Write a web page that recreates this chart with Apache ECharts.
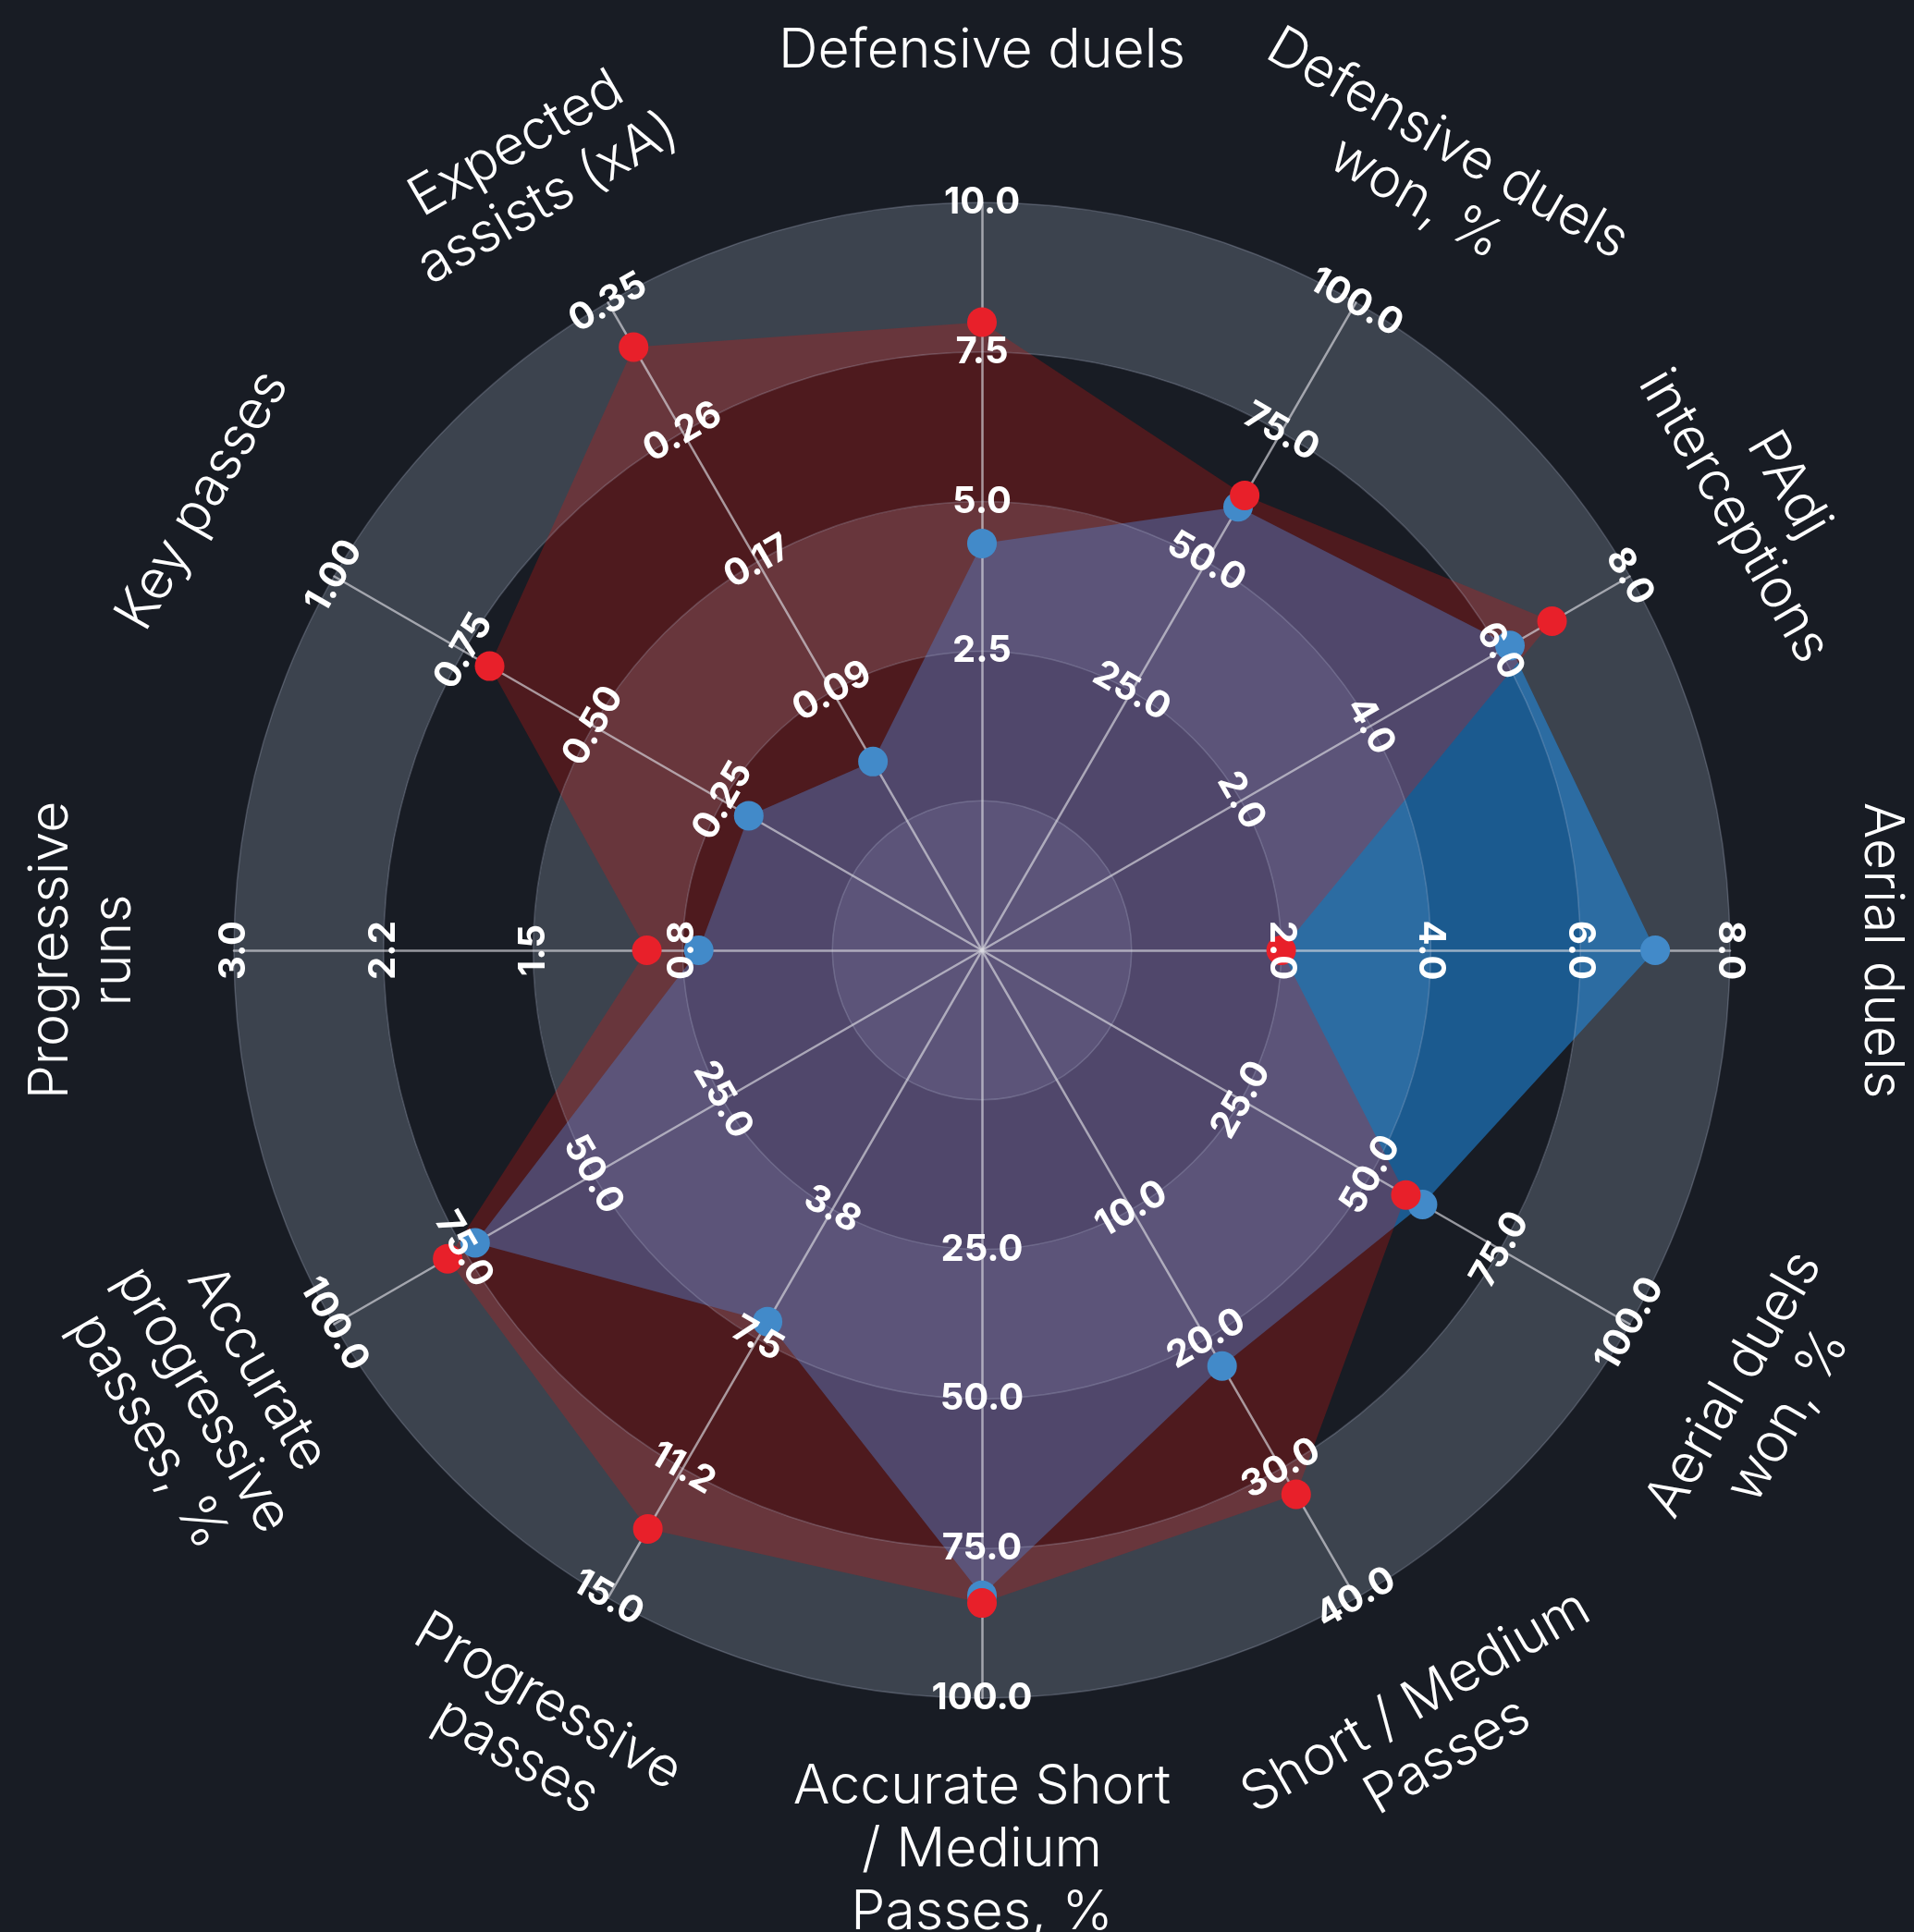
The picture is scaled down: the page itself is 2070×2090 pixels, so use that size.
<!DOCTYPE html>
<html>
<head>
<meta charset="utf-8">
<script src="https://cdn.jsdelivr.net/npm/echarts@6/dist/echarts.min.js"></script>
<style>
  html, body { margin: 0; padding: 0; background: #181c24; }
  #chart { width: 2070px; height: 2090px; }
</style>
</head>
<body>
<div id="chart"></div>
<script>
// indicators, counter-clockwise from the top (ECharts radar order)
const categories = [
  'Defensive duels',
  'Expected\nassists (xA)',
  'Key passes',
  'Progressive\nruns',
  'Accurate\nprogressive\npasses, %',
  'Progressive\npasses',
  'Accurate Short\n/ Medium\nPasses, %',
  'Short / Medium\nPasses',
  'Aerial duels\nwon, %',
  'Aerial duels',
  'PAdj\ninterceptions',
  'Defensive duels\nwon, %'
]
const axisMin = [0, 0, 0, 0, 0, 0, 0, 0, 0, 0, 0, 0]
const axisMax = [10, 0.35, 1, 3, 100, 15, 100, 40, 100, 8, 8, 100]
const tickLabels = [
  ['2.5', '5.0', '7.5', '10.0'],
  ['0.09', '0.17', '0.26', '0.35'],
  ['0.25', '0.50', '0.75', '1.00'],
  ['0.8', '1.5', '2.2', '3.0'],
  ['25.0', '50.0', '75.0', '100.0'],
  ['3.8', '7.5', '11.2', '15.0'],
  ['25.0', '50.0', '75.0', '100.0'],
  ['10.0', '20.0', '30.0', '40.0'],
  ['25.0', '50.0', '75.0', '100.0'],
  ['2.0', '4.0', '6.0', '8.0'],
  ['2.0', '4.0', '6.0', '8.0'],
  ['25.0', '50.0', '75.0', '100.0']
]
const playerRed = [8.0, 0.32, 0.70, 0.93, 78.1, 13.0, 84.1, 32.0, 56.8, 2.0, 6.8, 62.8]
const playerBlue = [4.3, 0.04, 0.20, 0.67, 72.8, 7.0, 82.8, 22.1, 60.0, 7.0, 6.15, 60.6]

const bg = '#181c24'
const ringColor = '#3c434e'
const center = [1062, 1028]
const radius = 809

// text runs along the rings: upright on both halves
function textRotation(i) {
  const theta = (90 + 30 * i) % 360
  let rot = theta <= 180 ? theta - 90 : theta + 90
  if (rot > 180) rot -= 360
  return rot
}

// inner hole = one ring, so the axis starts a quarter range below its min
function indicators(withText) {
  return categories.map((name, i) => {
    const step = (axisMax[i] - axisMin[i]) / 4
    const ind = {
      name: name,
      min: axisMin[i] - step,
      max: axisMax[i]
    }
    if (withText) {
      ind.nameRotate = textRotation(i)
      ind.axisLabel = {
        rotate: textRotation(i),
        formatter: function (v) {
          const k = Math.round((v - axisMin[i]) / step)
          return k >= 1 && k <= 4 ? tickLabels[i][k - 1] : ''
        }
      }
    }
    return ind
  })
}

const common = {
  center: center,
  radius: radius,
  shape: 'circle',
  splitNumber: 5,
  axisTick: { show: false }
}

const chart = echarts.init(document.getElementById('chart'))

const option = {
  backgroundColor: bg,
  animation: false,
  radar: [
    {
      ...common,
      z: 0,
      indicator: indicators(false),
      axisName: { show: false },
      axisLine: { show: false },
      axisLabel: { show: false },
      splitLine: { show: false },
      splitArea: { show: true, areaStyle: { color: [ringColor, bg] } }
    },
    {
      ...common,
      z: 3,
      indicator: indicators(false),
      axisName: { show: false },
      axisLine: { show: true, lineStyle: { color: 'rgba(220,220,226,0.65)', width: 2.5 } },
      axisLabel: { show: false },
      splitLine: { show: true, lineStyle: { color: 'rgba(190,200,225,0.25)', width: 1.5 } },
      splitArea: { show: false }
    },
    {
      ...common,
      z: 6,
      indicator: indicators(true),
      axisNameGap: 164,
      axisName: {
        show: true,
        color: '#ffffff',
        fontFamily: 'Inter',
        fontWeight: 300,
        fontSize: 59,
        lineHeight: 68,
        align: 'center',
        verticalAlign: 'middle'
      },
      axisLine: { show: false },
      axisLabel: {
        show: true,
        color: '#ffffff',
        fontFamily: 'Inter',
        fontWeight: 'bold',
        fontSize: 40,
        margin: 0,
        align: 'center',
        verticalAlign: 'middle'
      },
      splitLine: { show: false },
      splitArea: { show: false }
    }
  ],
  series: [
    {
      type: 'radar',
      radarIndex: 0,
      z: 2,
      symbol: 'none',
      lineStyle: { width: 0, opacity: 0 },
      data: [{ value: playerBlue, name: 'Blue', areaStyle: { color: 'rgb(30,145,238)', opacity: 0.53 } }]
    },
    {
      type: 'radar',
      radarIndex: 0,
      z: 2,
      symbol: 'none',
      lineStyle: { width: 0, opacity: 0 },
      data: [{ value: playerRed, name: 'Red', areaStyle: { color: 'rgb(220,21,15)', opacity: 0.28 } }]
    },
    {
      type: 'radar',
      radarIndex: 0,
      z: 4,
      symbol: 'circle',
      symbolSize: 32,
      lineStyle: { width: 0, opacity: 0 },
      itemStyle: { color: '#428ac9' },
      data: [{ value: playerBlue, name: 'Blue' }]
    },
    {
      type: 'radar',
      radarIndex: 0,
      z: 4,
      symbol: 'circle',
      symbolSize: 32,
      lineStyle: { width: 0, opacity: 0 },
      itemStyle: { color: '#e8202a' },
      data: [{ value: playerRed, name: 'Red' }]
    }
  ]
}

chart.setOption(option)
</script>
</body>
</html>
